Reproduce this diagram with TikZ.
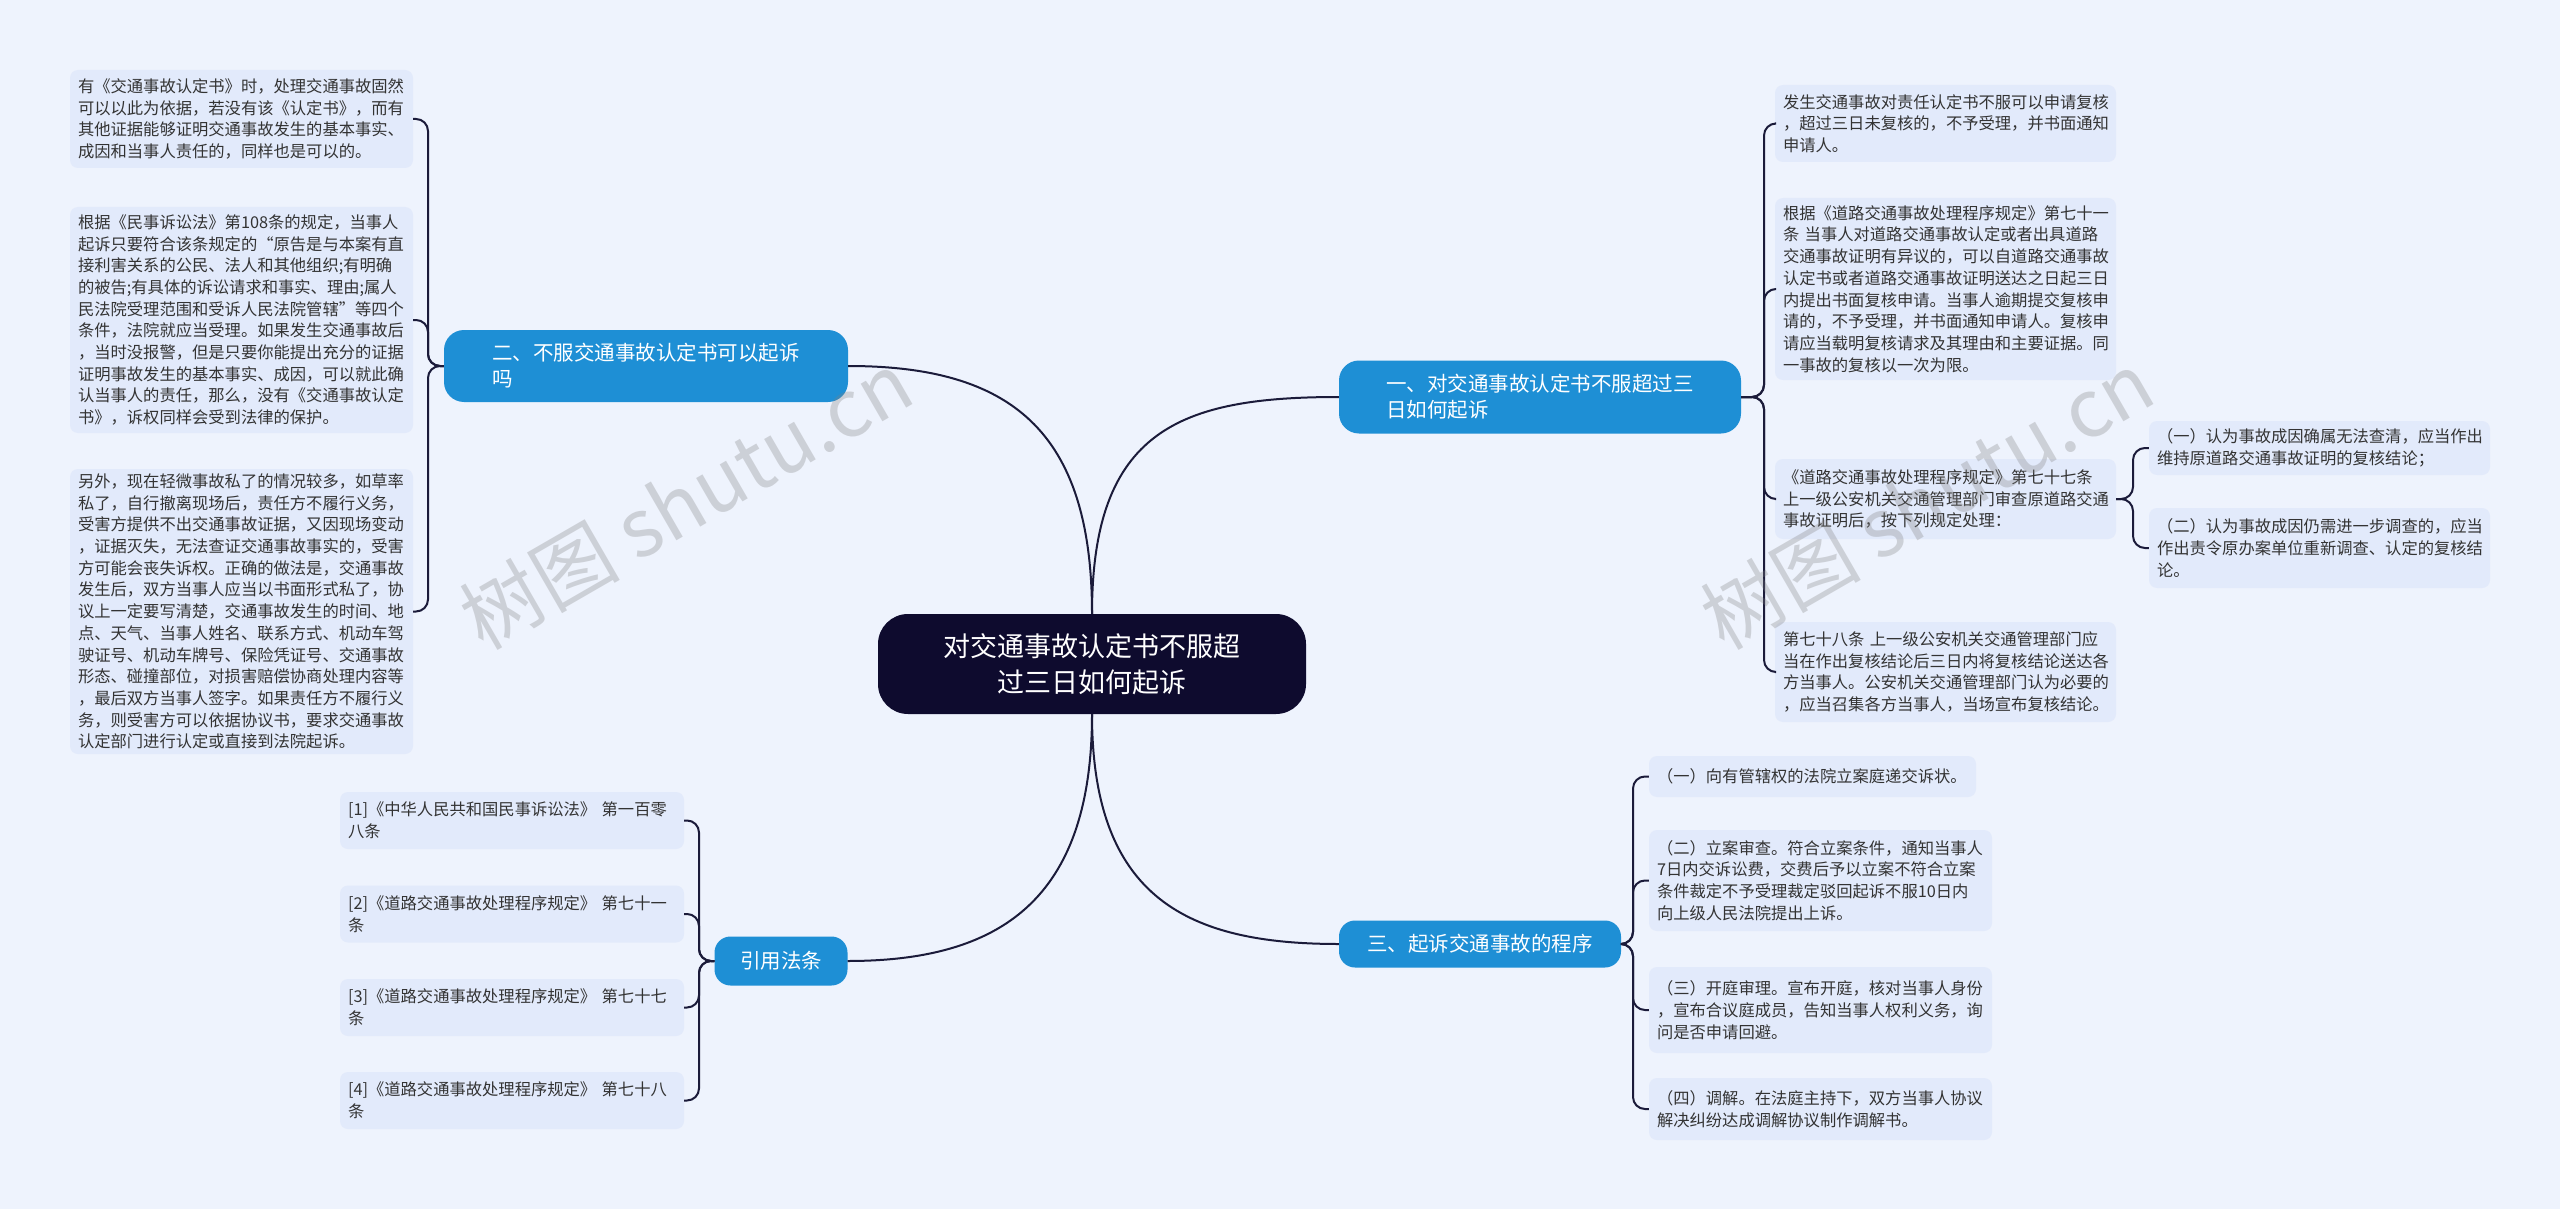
\documentclass[tikz,border=0pt]{standalone}
\usepackage{fontspec}
\setmainfont{Noto Sans CJK SC}
\definecolor{bgc}{HTML}{EEF3FD}
\definecolor{leafc}{HTML}{E2EAFB}
\definecolor{branchc}{HTML}{1E8FD5}
\definecolor{centerc}{HTML}{0E0B2E}
\definecolor{linec}{HTML}{1B1B3A}
\definecolor{txtc}{HTML}{333333}
\begin{document}
\begin{tikzpicture}[x=1pt,y=-1pt,
  leafbox/.style={fill=leafc,rounded corners=8pt,align=left,inner xsep=8pt,inner ysep=0pt,
    text=txtc,font=\fontsize{16.3}{21.7}\selectfont,anchor=center},
  branchbox/.style={fill=branchc,rounded corners=20pt,text=white,align=left,
    font=\fontsize{20.5}{26}\selectfont,inner sep=0pt},
  conn/.style={draw=linec,line width=2pt},
  brk/.style={draw=linec,line width=2pt,rounded corners=12pt},
  wm/.style={text=gray,opacity=0.3,font=\fontsize{80}{90}\selectfont,rotate=30}]
\useasboundingbox[fill=bgc] (0,0) rectangle (2560,1209);
% center
\node[fill=centerc,rounded corners=30pt,text=white,align=center,font=\fontsize{27}{36}\selectfont,
  minimum width=428pt,minimum height=100pt,inner sep=0pt] (c) at (1092,664)
  {对交通事故认定书不服超\\过三日如何起诉};
% branches
\node[branchbox,minimum width=404pt,minimum height=72pt] (b2) at (646,366)
  {二、不服交通事故认定书可以起诉\\吗};
\node[branchbox,minimum width=402pt,minimum height=73pt] (b1) at (1540,397)
  {一、对交通事故认定书不服超过三\\日如何起诉};
\node[branchbox,minimum width=282pt,minimum height=47pt,rounded corners=16pt] (b3) at (1480,944)
  {三、起诉交通事故的程序};
\node[branchbox,minimum width=133pt,minimum height=49pt,rounded corners=16pt] (b4) at (781,961)
  {引用法条};
\draw[conn] (c.north) .. controls (1092,430) and (1010,366) .. (b2.east);
\draw[conn] (c.north) .. controls (1092,430) and (1180,397) .. (b1.west);
\draw[conn] (c.south) .. controls (1092,900) and (1190,944) .. (b3.west);
\draw[conn] (c.south) .. controls (1092,900) and (1000,961) .. (b4.east);
% left leaves
\node[leafbox,text width=327pt,minimum height=98pt] (l1) at (241.5,119)
{有《交通事故认定书》时，处理交通事故固然\\可以以此为依据，若没有该《认定书》，而有\\其他证据能够证明交通事故发生的基本事实、\\成因和当事人责任的，同样也是可以的。};
\node[leafbox,text width=327pt,minimum height=226pt] (l2) at (241.5,320)
{根据《民事诉讼法》第108条的规定，当事人\\起诉只要符合该条规定的“原告是与本案有直\\接利害关系的公民、法人和其他组织;有明确\\的被告;有具体的诉讼请求和事实、理由;属人\\民法院受理范围和受诉人民法院管辖”等四个\\条件，法院就应当受理。如果发生交通事故后\\，当时没报警，但是只要你能提出充分的证据\\证明事故发生的基本事实、成因，可以就此确\\认当事人的责任，那么，没有《交通事故认定\\书》，诉权同样会受到法律的保护。};
\node[leafbox,text width=327pt,minimum height=285pt] (l3) at (241.5,611.5)
{另外，现在轻微事故私了的情况较多，如草率\\私了，自行撤离现场后，责任方不履行义务，\\受害方提供不出交通事故证据，又因现场变动\\，证据灭失，无法查证交通事故事实的，受害\\方可能会丧失诉权。正确的做法是，交通事故\\发生后，双方当事人应当以书面形式私了，协\\议上一定要写清楚，交通事故发生的时间、地\\点、天气、当事人姓名、联系方式、机动车驾\\驶证号、机动车牌号、保险凭证号、交通事故\\形态、碰撞部位，对损害赔偿协商处理内容等\\，最后双方当事人签字。如果责任方不履行义\\务，则受害方可以依据协议书，要求交通事故\\认定部门进行认定或直接到法院起诉。};
\foreach \n in {l1,l2,l3}{\draw[brk] (b2.west) -- (428,366) -- (428,0 |- \n.east) -- (\n.east);}
% right leaves
\node[leafbox,text width=325pt,minimum height=77pt] (r1) at (1945.5,123.5)
{发生交通事故对责任认定书不服可以申请复核\\，超过三日未复核的，不予受理，并书面通知\\申请人。};
\node[leafbox,text width=325pt,minimum height=182pt] (r2) at (1945.5,289)
{根据《道路交通事故处理程序规定》第七十一\\条 当事人对道路交通事故认定或者出具道路\\交通事故证明有异议的，可以自道路交通事故\\认定书或者道路交通事故证明送达之日起三日\\内提出书面复核申请。当事人逾期提交复核申\\请的，不予受理，并书面通知申请人。复核申\\请应当载明复核请求及其理由和主要证据。同\\一事故的复核以一次为限。};
\node[leafbox,text width=325pt,minimum height=80pt] (r3) at (1945.5,499)
{《道路交通事故处理程序规定》第七十七条\\上一级公安机关交通管理部门审查原道路交通\\事故证明后，按下列规定处理：};
\node[leafbox,text width=325pt,minimum height=100pt] (r4) at (1945.5,672)
{第七十八条 上一级公安机关交通管理部门应\\当在作出复核结论后三日内将复核结论送达各\\方当事人。公安机关交通管理部门认为必要的\\，应当召集各方当事人，当场宣布复核结论。};
\foreach \n in {r1,r2,r3,r4}{\draw[brk] (b1.east) -- (1764,397) -- (1764,0 |- \n.west) -- (\n.west);}
\node[leafbox,text width=325pt,minimum height=54pt] (r3a) at (2319.5,448)
{（一）认为事故成因确属无法查清，应当作出\\维持原道路交通事故证明的复核结论；};
\node[leafbox,text width=325pt,minimum height=80pt] (r3b) at (2319.5,548)
{（二）认为事故成因仍需进一步调查的，应当\\作出责令原办案单位重新调查、认定的复核结\\论。};
\foreach \n in {r3a,r3b}{\draw[brk] (r3.east) -- (2133,499) -- (2133,0 |- \n.west) -- (\n.west);}
% procedure leaves
\node[leafbox,text width=311pt,minimum height=41pt] (t1) at (1812.5,776.5)
{（一）向有管辖权的法院立案庭递交诉状。};
\node[leafbox,text width=327pt,minimum height=101pt] (t2) at (1820.5,880.5)
{（二）立案审查。符合立案条件，通知当事人\\7日内交诉讼费，交费后予以立案不符合立案\\条件裁定不予受理裁定驳回起诉不服10日内\\向上级人民法院提出上诉。};
\node[leafbox,text width=327pt,minimum height=86pt] (t3) at (1820.5,1010)
{（三）开庭审理。宣布开庭，核对当事人身份\\，宣布合议庭成员，告知当事人权利义务，询\\问是否申请回避。};
\node[leafbox,text width=327pt,minimum height=62pt] (t4) at (1820.5,1109)
{（四）调解。在法庭主持下，双方当事人协议\\解决纠纷达成调解协议制作调解书。};
\foreach \n in {t1,t2,t3,t4}{\draw[brk] (b3.east) -- (1633,944) -- (1633,0 |- \n.west) -- (\n.west);}
% citation leaves
\node[leafbox,text width=328pt,minimum height=57pt] (c1) at (512,820.5)
{[1]《中华人民共和国民事诉讼法》 第一百零\\八条};
\node[leafbox,text width=328pt,minimum height=57pt] (c2) at (512,914)
{[2]《道路交通事故处理程序规定》 第七十一\\条};
\node[leafbox,text width=328pt,minimum height=57pt] (c3) at (512,1007.5)
{[3]《道路交通事故处理程序规定》 第七十七\\条};
\node[leafbox,text width=328pt,minimum height=57pt] (c4) at (512,1100.5)
{[4]《道路交通事故处理程序规定》 第七十八\\条};
\foreach \n in {c1,c2,c3,c4}{\draw[brk] (b4.west) -- (699,961) -- (699,0 |- \n.east) -- (\n.east);}
% watermarks
\node[wm] (w1) at (686,500) {树图 shutu.cn};
\node[wm] (w2) at (1927,500) {树图 shutu.cn};
\end{tikzpicture}
\end{document}
